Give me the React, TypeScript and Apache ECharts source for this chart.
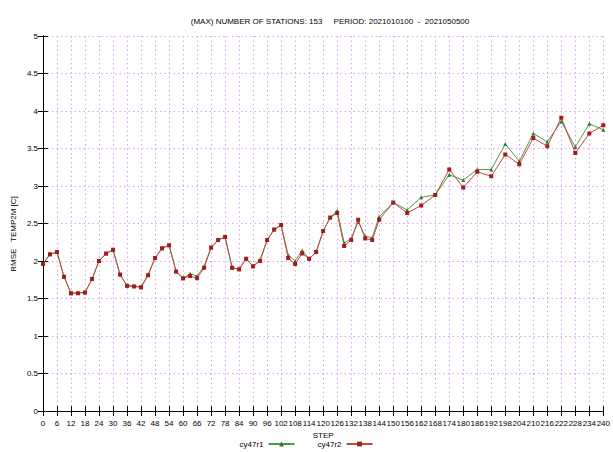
import React, { useEffect, useRef } from "react";
import * as echarts from "echarts";

const steps: number[] = [
  0, 3, 6, 9, 12, 15, 18, 21, 24, 27, 30, 33, 36, 39, 42, 45, 48, 51, 54, 57, 60,
  63, 66, 69, 72, 75, 78, 81, 84, 87, 90, 93, 96, 99, 102, 105, 108, 111, 114, 117,
  120, 123, 126, 129, 132, 135, 138, 141, 144, 150, 156, 162, 168, 174, 180, 186,
  192, 198, 204, 210, 216, 222, 228, 234, 240,
];

const cy47r1: number[] = [
  1.96, 2.09, 2.12, 1.79, 1.57, 1.58, 1.58, 1.76, 2.0, 2.1, 2.15, 1.82, 1.67, 1.67,
  1.65, 1.82, 2.04, 2.17, 2.21, 1.86, 1.77, 1.83, 1.8, 1.93, 2.18, 2.28, 2.32, 1.91,
  1.89, 2.03, 1.93, 2.02, 2.28, 2.42, 2.48, 2.08, 2.0, 2.14, 2.03, 2.12, 2.4, 2.58,
  2.67, 2.24, 2.3, 2.52, 2.33, 2.31, 2.59, 2.78, 2.68, 2.85, 2.88, 3.15, 3.08, 3.22,
  3.22, 3.56, 3.33, 3.7, 3.59, 3.86, 3.52, 3.83, 3.75,
];

const cy47r2: number[] = [
  1.96, 2.09, 2.12, 1.79, 1.57, 1.57, 1.58, 1.76, 2.0, 2.1, 2.15, 1.82, 1.67, 1.66,
  1.65, 1.81, 2.04, 2.17, 2.21, 1.86, 1.77, 1.8, 1.77, 1.91, 2.18, 2.28, 2.32, 1.91,
  1.89, 2.03, 1.93, 2.0, 2.28, 2.42, 2.48, 2.04, 1.96, 2.1, 2.03, 2.12, 2.4, 2.58,
  2.64, 2.2, 2.28, 2.55, 2.3, 2.28, 2.55, 2.78, 2.64, 2.74, 2.88, 3.22, 2.98, 3.19,
  3.13, 3.42, 3.29, 3.64, 3.53, 3.91, 3.44, 3.7, 3.81,
];

const seriesNames = ["cy47r1", "cy47r2"];
const titleText =
  "(MAX) NUMBER OF STATIONS: 153\u00a0\u00a0\u00a0\u00a0\u00a0PERIOD: 2021010100\u00a0\u00a0-\u00a0\u00a02021050500";
const yName = "RMSE\u00a0\u00a0\u00a0TEMP2M [C]";
const xName = "STEP";

const FONT = "'Liberation Sans', Arial, Helvetica, sans-serif";

export default function App() {
  const ref = useRef<HTMLDivElement>(null);

  useEffect(() => {
    if (!ref.current) return;
    const chart = echarts.init(ref.current, undefined, { renderer: "svg" });

    const axisLine = { show: true, lineStyle: { color: "#000", width: 1 } };
    const axisTick = { show: true, inside: true, length: 5, lineStyle: { color: "#000", width: 1 } };
    const splitLine = { show: true, lineStyle: { type: [1.5, 3], color: "#dc9eee", width: 1 } };

    const option: any = {
      animation: false,
      backgroundColor: "#fff",
      textStyle: { fontFamily: FONT },
      title: {
        text: titleText,
        left: 325,
        textAlign: "center",
        top: 12,
        textStyle: { fontSize: 8, fontWeight: "normal", color: "#000", fontFamily: FONT },
      },
      grid: { left: 43, right: 6, top: 36, bottom: 41, containLabel: false },
      legend: {
        data: seriesNames,
        left: "center",
        top: 439,
        padding: [1, 5, 1, 5],
        align: "right",
        itemWidth: 26,
        itemHeight: 6,
        itemGap: 22,
        textStyle: { fontSize: 8, color: "#000", fontFamily: FONT },
      },
      xAxis: [
        {
          type: "value",
          min: 0,
          max: 240,
          interval: 6,
          position: "bottom",
          axisLine,
          axisTick,
          axisLabel: { fontSize: 8, color: "#000", margin: 8, fontFamily: FONT, showMaxLabel: true, showMinLabel: true },
          splitLine,
          name: xName,
          nameLocation: "middle",
          nameGap: 18,
          nameTextStyle: { fontSize: 8, color: "#000", fontFamily: FONT },
        },
        {
          type: "value",
          min: 0,
          max: 240,
          interval: 6,
          position: "top",
          axisLine,
          axisTick,
          axisLabel: { show: false },
          splitLine: { show: false },
        },
      ],
      yAxis: [
        {
          type: "value",
          min: 0,
          max: 5,
          interval: 0.5,
          position: "left",
          axisLine,
          axisTick,
          axisLabel: { fontSize: 8, color: "#000", margin: 5, fontFamily: FONT },
          splitLine,
        },
        {
          type: "value",
          min: 0,
          max: 5,
          interval: 0.5,
          position: "right",
          axisLine,
          axisTick,
          axisLabel: { show: false },
          splitLine: { show: false },
        },
      ],
      graphic: [
        {
          type: "text",
          x: 13,
          y: 234,
          rotation: Math.PI / 2,
          style: {
            text: yName,
            fontSize: 8,
            fill: "#000",
            fontFamily: FONT,
            align: "center",
            verticalAlign: "middle",
          },
        },
      ],
      series: [
        {
          name: seriesNames[0],
          type: "line",
          data: steps.map((s, i) => [s, cy47r1[i]]),
          symbol: "triangle",
          symbolSize: 4,
          showAllSymbol: true,
          lineStyle: { color: "#4b9a4b", width: 1 },
          itemStyle: { color: "#2f7a2f" },
          z: 2,
        },
        {
          name: seriesNames[1],
          type: "line",
          data: steps.map((s, i) => [s, cy47r2[i]]),
          symbol: "rect",
          symbolSize: 4,
          showAllSymbol: true,
          lineStyle: { color: "#c4463e", width: 1 },
          itemStyle: { color: "#a51b1b" },
          z: 3,
        },
      ],
    };

    chart.setOption(option);
    return () => chart.dispose();
  }, []);

  return (
    <div
      ref={ref}
      style={{ position: "fixed", left: 0, top: 0, width: 613, height: 452, background: "#fff" }}
    />
  );
}
